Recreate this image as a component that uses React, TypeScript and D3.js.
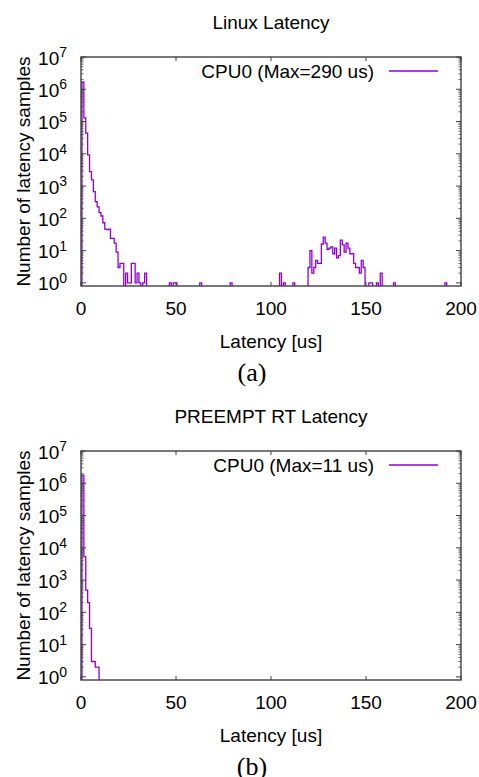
import React from 'react';
import * as d3 from 'd3';

// histogram bins (latency in us -> number of samples), zero bins left out
const linuxLatency = [
  1, 2, 3, 4, 5, 6, 7, 8, 9, 10, 11, 12, 13, 14, 15, 16, 17, 18, 19, 20, 21, 22,
  24, 25, 26, 27, 28, 29, 30, 31, 33, 34, 47, 49, 50, 63, 79, 105, 107, 112,
  120, 121, 122, 123, 124, 125, 126, 127, 128, 129, 130, 131, 132, 133, 134, 135,
  136, 137, 138, 139, 140, 141, 142, 143, 144, 145, 146, 147, 148, 149,
  152, 153, 156, 158, 165, 192,
];
const linuxCount = [
  1.7e6, 1.3e5, 4.4e4, 9.2e3, 2.8e3, 1.55e3, 670, 330, 225, 150, 118, 73, 46, 45, 46, 24, 24, 17, 9, 3, 4, 4,
  2, 1, 1, 4, 4, 1, 2, 1, 1, 2, 1, 1, 1, 1, 1, 2, 1, 1,
  3, 10, 2, 3, 5, 4, 4, 16, 26, 17, 11, 12, 13, 8, 12, 6,
  7, 21, 15, 9, 17, 12, 8, 8, 4, 3, 3, 2, 5, 3,
  1, 1, 1, 2, 1, 1,
];

const rtLatency = [1, 2, 3, 4, 5, 6, 7, 8, 9];
const rtCount = [1.8e6, 5.3e3, 490, 200, 32, 3, 3, 2, 2];

const xTicks = [0, 50, 100, 150, 200];
const yExponents = [0, 1, 2, 3, 4, 5, 6, 7];

const W = 479;
const H = 777;
const PLOT = { left: 81, right: 461, top: 57, bottom: 286 };
const PANEL_STEP = 394;
const FLOOR = 0.8;
const PURPLE = '#9400d3';
const FRAME = '#404040';
const SANS = '"Liberation Sans", Arial, sans-serif';
const SERIF = '"Liberation Serif", "Times New Roman", serif';
const FS = 19;

function stepRuns(lat: number[], cnt: number[]) {
  const out: [number, number][][] = [];
  let cur: [number, number][] | null = null;
  let prev = -10;
  lat.forEach((l, i) => {
    if (cur && l !== prev + 1) {
      cur.push([prev + 0.5, FLOOR]);
      out.push(cur);
      cur = null;
    }
    if (!cur) cur = [[l - 0.5, FLOOR]];
    cur.push([l - 0.5, cnt[i]], [l + 0.5, cnt[i]]);
    prev = l;
  });
  if (cur) {
    cur.push([prev + 0.5, FLOOR]);
    out.push(cur);
  }
  return out;
}

function Panel({ dy, id, title, legend, lat, cnt, caption }: any) {
  const top = PLOT.top + dy;
  const bottom = PLOT.bottom + dy;
  const x = d3.scaleLinear().domain([0, 200]).range([PLOT.left, PLOT.right]);
  const y = d3.scaleLog().domain([FLOOR, 1e7]).range([bottom, top]);
  const line = d3.line<[number, number]>().x(d => x(d[0])).y(d => y(d[1]));
  const runs = stepRuns(lat, cnt);

  const minor: number[] = [];
  for (let e = 0; e < 7; e++) for (let m = 2; m <= 9; m++) minor.push(m * Math.pow(10, e));

  const midY = (top + bottom) / 2;
  const midX = (PLOT.left + PLOT.right) / 2;

  return (
    <g>
      <defs>
        <clipPath id={id}>
          <rect x={PLOT.left} y={top} width={PLOT.right - PLOT.left} height={bottom - top} />
        </clipPath>
      </defs>
      <text x={midX} y={29 + dy} textAnchor="middle" fontFamily={SANS} fontSize={FS}>{title}</text>

      {/* data */}
      <g clipPath={`url(#${id})`}>
        {runs.map((r, i) => (
          <path key={i} d={line(r) || ''} fill="none" stroke={PURPLE} strokeWidth={1.3} />
        ))}
      </g>

      {/* frame and ticks */}
      <rect x={PLOT.left} y={top} width={PLOT.right - PLOT.left} height={bottom - top}
        fill="none" stroke={FRAME} strokeWidth={1.4} />
      {xTicks.map(t => (
        <g key={t}>
          <line x1={x(t)} x2={x(t)} y1={bottom} y2={bottom - 4} stroke={FRAME} />
          <line x1={x(t)} x2={x(t)} y1={top} y2={top + 4} stroke={FRAME} />
          <text x={x(t)} y={315 + dy} textAnchor="middle" fontFamily={SANS} fontSize={FS}>{t}</text>
        </g>
      ))}
      {yExponents.map(e => {
        const yy = y(Math.pow(10, e));
        return (
          <g key={e}>
            <line x1={PLOT.left} x2={PLOT.left + 5} y1={yy} y2={yy} stroke={FRAME} />
            <line x1={PLOT.right} x2={PLOT.right - 5} y1={yy} y2={yy} stroke={FRAME} />
            <text x={67} y={yy + 7.5} textAnchor="end" fontFamily={SANS} fontSize={FS}>
              10<tspan fontSize={14} dy={-7.5}>{e}</tspan>
            </text>
          </g>
        );
      })}
      {minor.map(v => (
        <g key={v}>
          <line x1={PLOT.left} x2={PLOT.left + 2.5} y1={y(v)} y2={y(v)} stroke={FRAME} strokeWidth={0.8} />
          <line x1={PLOT.right} x2={PLOT.right - 2.5} y1={y(v)} y2={y(v)} stroke={FRAME} strokeWidth={0.8} />
        </g>
      ))}

      {/* legend */}
      <text x={374} y={top + 21} textAnchor="end" fontFamily={SANS} fontSize={FS}>{legend}</text>
      <line x1={389} x2={438} y1={top + 14} y2={top + 14} stroke={PURPLE} strokeWidth={1.3} />

      {/* axis titles */}
      <text transform={`translate(30,${midY}) rotate(-90)`} textAnchor="middle" fontFamily={SANS} fontSize={FS}>
        Number of latency samples
      </text>
      <text x={midX} y={347.5 + dy} textAnchor="middle" fontFamily={SANS} fontSize={FS}>Latency [us]</text>
      <text x={252} y={381 + dy} textAnchor="middle" fontFamily={SERIF} fontSize={26}>{caption}</text>
    </g>
  );
}

export default function App() {
  return (
    <svg width={W} height={H} style={{ position: 'absolute', left: 0, top: 0, background: '#fff' }}>
      <rect width={W} height={H} fill="#fff" />
      <Panel dy={0} id="clipA" title="Linux Latency" legend="CPU0 (Max=290 us)"
        lat={linuxLatency} cnt={linuxCount} caption="(a)" />
      <Panel dy={PANEL_STEP} id="clipB" title="PREEMPT RT Latency" legend="CPU0 (Max=11 us)"
        lat={rtLatency} cnt={rtCount} caption="(b)" />
    </svg>
  );
}
